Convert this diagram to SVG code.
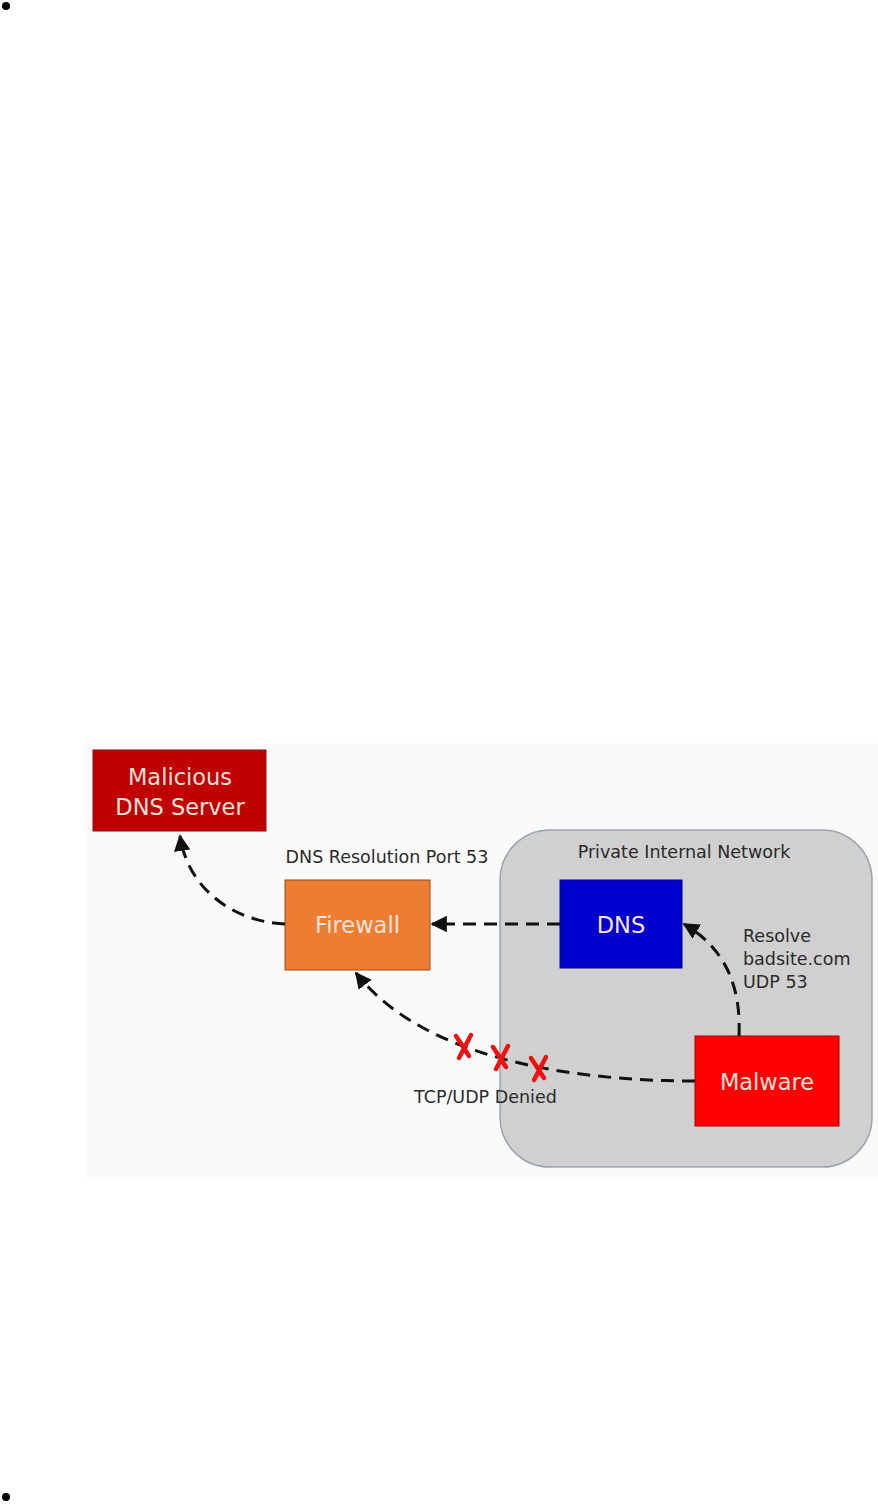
<svg xmlns="http://www.w3.org/2000/svg" width="878" height="1504" viewBox="0 0 878 1504">
<style>
.lbl{font-family:"DejaVu Sans","Liberation Sans",sans-serif;font-size:17.5px;fill:#2a2a2a}
.node{font-family:"DejaVu Sans","Liberation Sans",sans-serif;font-size:22.5px;fill:#fbe3dc;text-anchor:middle}
.edge{fill:none;stroke:#111;stroke-width:3;stroke-dasharray:13,8}
.x{fill:none;stroke:#ee1111;stroke-width:4.5;stroke-linecap:round}
</style>
<defs>
<marker id="ah" viewBox="0 0 10 10" refX="9" refY="5" markerWidth="5.5" markerHeight="5.5" orient="auto" markerUnits="strokeWidth">
<path d="M0,0 L10,5 L0,10 z" fill="#111"/>
</marker>
</defs>
<rect width="878" height="1504" fill="#ffffff"/>
<circle cx="6" cy="6" r="4" fill="#000"/>
<circle cx="6" cy="1497" r="4" fill="#000"/>
<rect x="85" y="743" width="793" height="435" fill="#fafafa"/>
<g id="network">
<rect x="500" y="830" width="372" height="337" rx="50" ry="50" fill="#d0d0d0" stroke="#9aa3ad" stroke-width="1.5"/>
<text class="lbl" x="684" y="858" text-anchor="middle">Private Internal Network</text>
</g>
<g id="malicious-dns">
<rect x="93" y="750" width="173" height="81" fill="#c00000" stroke="#8a1010" stroke-width="1"/>
<text class="node" x="180" y="785">Malicious</text>
<text class="node" x="180" y="815">DNS Server</text>
</g>
<g id="firewall">
<rect x="285" y="880" width="145" height="90" fill="#ed7d31" stroke="#9a4a14" stroke-width="1"/>
<text class="node" x="357.5" y="933">Firewall</text>
</g>
<g id="dns">
<rect x="560" y="880" width="122" height="88" fill="#0000cc" stroke="#000088" stroke-width="1"/>
<text class="node" x="621" y="933">DNS</text>
</g>
<g id="malware">
<rect x="695" y="1036" width="144" height="90" fill="#ff0000" stroke="#aa0000" stroke-width="1"/>
<text class="node" x="767" y="1090">Malware</text>
</g>
<g id="connectors">
<path class="edge" d="M285,924 C235,922 188,890 180,836" marker-end="url(#ah)"/>
<path class="edge" d="M560,924 L432,924" marker-end="url(#ah)"/>
<path class="edge" d="M739,1036 C741,990 728,950 684,924" marker-end="url(#ah)"/>
<path class="edge" d="M695,1081 C560,1081 420,1055 356,973" marker-end="url(#ah)"/>
</g>
<g id="labels">
<text class="lbl" x="387" y="863" text-anchor="middle">DNS Resolution Port 53</text>
<text class="lbl" x="743" y="942">Resolve</text>
<text class="lbl" x="743" y="965">badsite.com</text>
<text class="lbl" x="743" y="988">UDP 53</text>
<text class="lbl" x="414" y="1103">TCP/UDP Denied</text>
</g>
<g id="denied-marks">
<path class="x" d="M456,1036 L469,1056 M471,1035 L459,1058"/>
<path class="x" d="M493,1047 L506,1067 M508,1046 L496,1069"/>
<path class="x" d="M531,1058 L544,1078 M546,1057 L534,1080"/>
</g>
</svg>
